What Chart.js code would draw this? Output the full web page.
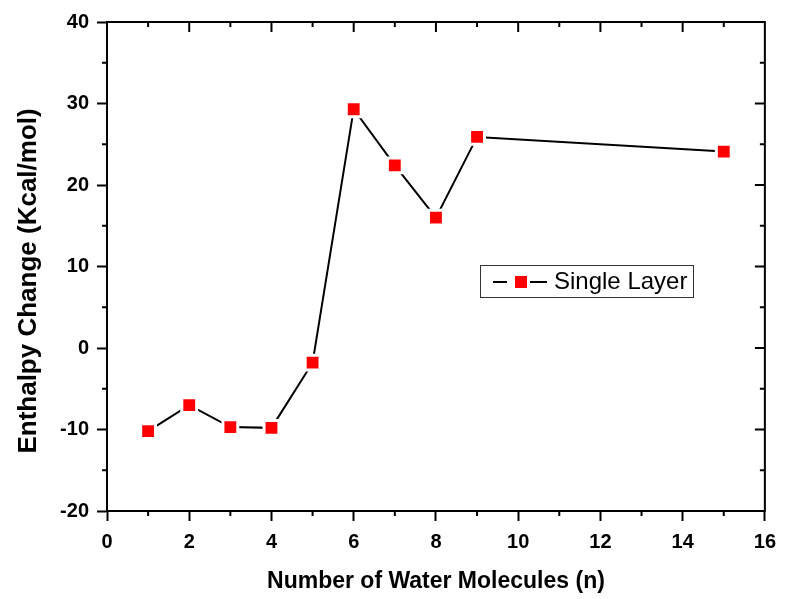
<!DOCTYPE html>
<html>
<head>
<meta charset="utf-8">
<script src="https://cdn.jsdelivr.net/npm/chart.js@4/dist/chart.umd.min.js"></script>
<style>
html,body{margin:0;padding:0;background:#fff;}
canvas{display:block;}
</style>
</head>
<body>
<canvas id="c" width="785" height="599"></canvas>
<script>
// ---- data ----
const nValues = [1, 2, 3, 4, 5, 6, 7, 8, 9, 15];
const enthalpy = [-10.2, -7.0, -9.7, -9.8, -1.8, 29.3, 22.4, 16.0, 25.9, 24.1];
const seriesName = 'Single Layer';
const xTickValues = [0, 2, 4, 6, 8, 10, 12, 14, 16];
const xMinorValues = [1, 3, 5, 7, 9, 11, 13, 15];
const yTickValues = [-20, -10, 0, 10, 20, 30, 40];
const yMinorValues = [-15, -5, 5, 15, 25, 35];
const xTitle = 'Number of Water Molecules (n)';
const yTitle = 'Enthalpy Change (Kcal/mol)    ';

const FONT = "'Liberation Sans', Arial, sans-serif";

const framePlugin = {
  id: 'frame',
  afterDraw(chart) {
    const ctx = chart.ctx;
    const a = chart.chartArea;
    const xs = chart.scales.x, ys = chart.scales.y;
    ctx.save();
    ctx.strokeStyle = '#000';
    ctx.lineWidth = 2;
    ctx.lineCap = 'butt';
    // top and right frame lines
    ctx.beginPath();
    ctx.moveTo(a.left - 1, a.top);
    ctx.lineTo(a.right + 1, a.top);
    ctx.moveTo(a.right, a.top);
    ctx.lineTo(a.right, a.bottom + 1);
    ctx.stroke();
    // top major (inward) and minor ticks
    ctx.beginPath();
    xTickValues.forEach(v => {
      const p = xs.getPixelForValue(v);
      if (p > a.left + 2 && p < a.right - 2) { ctx.moveTo(p, a.top); ctx.lineTo(p, a.top + 10); }
    });
    xMinorValues.forEach(v => {
      const p = xs.getPixelForValue(v);
      ctx.moveTo(p, a.top); ctx.lineTo(p, a.top + 5);
      ctx.moveTo(p, a.bottom); ctx.lineTo(p, a.bottom + 5);
    });
    yTickValues.forEach(v => {
      const p = ys.getPixelForValue(v);
      if (p > a.top + 2 && p < a.bottom - 2) { ctx.moveTo(a.right, p); ctx.lineTo(a.right - 10, p); }
    });
    yMinorValues.forEach(v => {
      const p = ys.getPixelForValue(v);
      ctx.moveTo(a.right, p); ctx.lineTo(a.right - 5, p);
      ctx.moveTo(a.left, p); ctx.lineTo(a.left - 5, p);
    });
    ctx.stroke();

    // legend box
    const ds = chart.data.datasets[0];
    const bx = 480, by = 265, bw = 213, bh = 32;
    ctx.lineWidth = 1;
    ctx.strokeStyle = '#333';
    ctx.strokeRect(bx + 0.5, by + 0.5, bw, bh);
    const cy = by + bh / 2 + 1;
    ctx.strokeStyle = ds.borderColor;
    ctx.lineWidth = ds.borderWidth;
    ctx.beginPath();
    ctx.moveTo(bx + 13, cy); ctx.lineTo(bx + 27, cy);
    ctx.moveTo(bx + 50, cy); ctx.lineTo(bx + 67, cy);
    ctx.stroke();
    ctx.fillStyle = ds.pointBackgroundColor;
    ctx.fillRect(bx + 35, cy - 6, 12, 12);
    ctx.fillStyle = '#000';
    ctx.font = "24px " + FONT;
    ctx.textBaseline = 'middle';
    ctx.textAlign = 'left';
    ctx.fillText(ds.label, bx + 74, cy);
    ctx.restore();
  }
};

new Chart(document.getElementById('c'), {
  type: 'line',
  data: {
    datasets: [{
      label: seriesName,
      data: nValues.map((n, i) => ({x: n, y: enthalpy[i]})),
      borderColor: '#000',
      borderWidth: 2,
      pointStyle: 'rect',
      pointRadius: 10.5,
      pointBackgroundColor: '#ff0000',
      pointBorderColor: '#ffffff',
      pointBorderWidth: 3,
      tension: 0,
      fill: false
    }]
  },
  options: {
    responsive: false,
    devicePixelRatio: 1,
    animation: false,
    layout: { padding: { left: 0, top: 22, right: 18, bottom: 0 } },
    plugins: { legend: { display: false }, tooltip: { enabled: false } },
    scales: {
      x: {
        type: 'linear',
        min: 0, max: 16,
        afterBuildTicks: s => { s.ticks = xTickValues.map(v => ({value: v})); },
        afterFit: s => { s.height = 88; },
        ticks: { color: '#000', font: { family: FONT, size: 20, weight: 'bold' }, padding: 9, maxRotation: 0 },
        grid: { drawOnChartArea: false, drawTicks: true, tickLength: 10, tickWidth: 2, tickColor: '#000' },
        border: { display: true, color: '#000', width: 2 },
        title: { display: true, text: xTitle, color: '#000', font: { family: FONT, size: 23, weight: 'bold' }, padding: { top: 0, bottom: 4 } }
      },
      y: {
        type: 'linear',
        min: -20, max: 40,
        afterBuildTicks: s => { s.ticks = yTickValues.map(v => ({value: v})); },
        afterFit: s => { s.width = 107; },
        ticks: { color: '#000', font: { family: FONT, size: 20, weight: 'bold' }, padding: 8 },
        grid: { drawOnChartArea: false, drawTicks: true, tickLength: 10, tickWidth: 2, tickColor: '#000' },
        border: { display: true, color: '#000', width: 2 },
        title: { display: true, text: yTitle, color: '#000', font: { family: FONT, size: 26, weight: 'bold' }, padding: { top: 13, bottom: 0 } }
      }
    }
  },
  plugins: [framePlugin]
});
</script>
</body>
</html>
